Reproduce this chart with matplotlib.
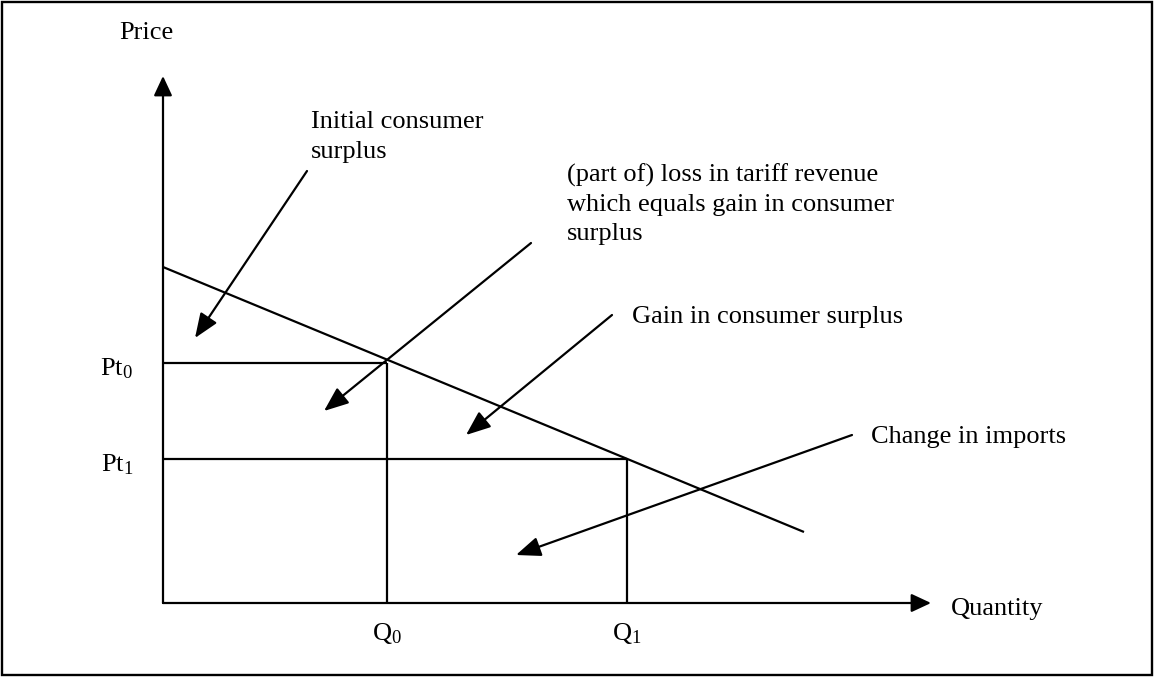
import matplotlib
matplotlib.use("Agg")
import matplotlib.pyplot as plt
from matplotlib.patches import Rectangle

plt.rcParams['font.family'] = ['Liberation Serif', 'DejaVu Serif']
plt.rcParams['mathtext.fontset'] = 'custom'
plt.rcParams['mathtext.rm'] = 'Liberation Serif'
plt.rcParams['mathtext.it'] = 'Liberation Serif:italic'

# ---- data (economic units) ----
q_levels = [22.4, 46.4]            # Q0, Q1
p_levels = [24.0, 14.4]            # Pt0, Pt1
q_labels = ["Q$_\\mathrm{0}$", "Q$_\\mathrm{1}$"]
p_labels = ["Pt$_\\mathrm{0}$", "Pt$_\\mathrm{1}$"]
demand_q = [0.0, 64.1]
demand_p = [33.6, 7.1]
axis_max_q = 76.8
axis_max_p = 52.7

notes = [
    "Initial consumer\nsurplus",
    "(part of) loss in tariff revenue\nwhich equals gain in consumer\nsurplus",
    "Gain in consumer surplus",
    "Change in imports",
]
note_pos = [(14.8, 46.6), (40.4, 39.9), (46.9, 28.6), (70.8, 16.6)]
arrow_start = [(14.4, 43.2), (36.8, 36.0), (44.9, 28.8), (68.9, 16.8)]
arrow_tip = [(3.2, 26.5), (16.1, 19.2), (30.3, 16.8), (35.3, 4.8)]

W, H = 1157, 677
fig = plt.figure(figsize=(W / 100, H / 100), dpi=100)
ax = fig.add_axes([0, 0, 1, 1])
ax.set_xlim(-16.3, 99.4)
ax.set_ylim(-7.4, 60.3)
ax.axis('off')

fs = 19
lw = 1.6
col = 'black'

# outer frame
fig.patches.append(Rectangle((2 / W, 2 / H), 1150 / W, 673 / H, transform=fig.transFigure,
                             fill=False, edgecolor=col, linewidth=1.7))

# axes with arrows
axis_head = '-|>,head_length=0.6,head_width=0.28'
ax.annotate('', xy=(0, axis_max_p), xytext=(0, 0),
            arrowprops=dict(arrowstyle=axis_head, color=col,
                            lw=lw, shrinkA=0, shrinkB=0, mutation_scale=20))
ax.annotate('', xy=(axis_max_q, 0), xytext=(0, 0),
            arrowprops=dict(arrowstyle=axis_head, color=col,
                            lw=lw, shrinkA=0, shrinkB=0, mutation_scale=20))

# demand line
ax.plot(demand_q, demand_p, color=col, lw=lw, solid_capstyle='butt')

# price/quantity guide lines
for q, p in zip(q_levels, p_levels):
    ax.plot([0, q], [p, p], color=col, lw=lw, solid_capstyle='butt')
    ax.plot([q, q], [0, p], color=col, lw=lw, solid_capstyle='butt')

# tick labels
for q, lab in zip(q_levels, q_labels):
    ax.text(q, -3.1, lab, fontsize=fs, ha='center', va='center')
for p, lab in zip(p_levels, p_labels):
    ax.text(-3.0, p - 0.6, lab, fontsize=fs, ha='right', va='center')

# axis titles
ax.text(-1.7, 57.0, "Price", fontsize=fs, ha='center', va='center')
ax.text(78.8, -0.6, "Quantity", fontsize=fs, ha='left', va='center')

# annotations
for txt, pos, s, t in zip(notes, note_pos, arrow_start, arrow_tip):
    ax.text(pos[0], pos[1], txt, fontsize=fs, ha='left', va='center', linespacing=1.42)
    ax.annotate('', xy=t, xytext=s,
                arrowprops=dict(arrowstyle='-|>,head_length=0.75,head_width=0.3', color=col,
                                lw=lw, shrinkA=0, shrinkB=0, mutation_scale=20))

fig.savefig('out.png', dpi=100)
